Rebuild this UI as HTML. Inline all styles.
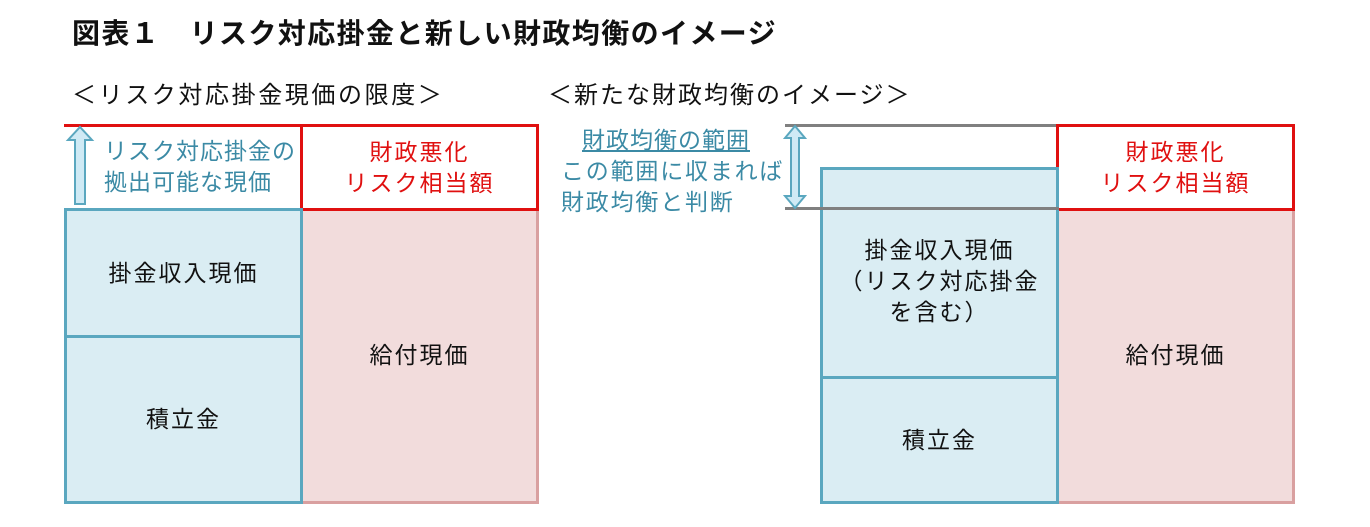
<!DOCTYPE html>
<html><head><meta charset="utf-8"><style>
body{margin:0;width:1370px;height:527px;background:#fff;position:relative;overflow:hidden;font-family:"Liberation Sans","Noto Sans CJK JP",sans-serif;}
div{position:absolute;box-sizing:border-box;}
.t{white-space:nowrap;}
.blue{background:#daedf3;border:3px solid #5aa7bf;}
.pink{background:#f2dcdc;border:3px solid #d9a0a0;}
.red{background:#fff;border:3px solid #e01010;}
.c{display:flex;align-items:center;justify-content:center;text-align:center;font-size:23px;letter-spacing:2px;color:#111;line-height:31px;}
</style></head><body>
<div class="t" style="left:72px;top:12px;font-size:28px;letter-spacing:1.4px;font-weight:bold;color:#111;">図表１　リスク対応掛金と新しい財政均衡のイメージ</div>
<div class="t" style="left:72px;top:75px;font-size:24px;letter-spacing:2.6px;color:#111;">＜リスク対応掛金現価の限度＞</div>
<div class="t" style="left:548px;top:75px;font-size:24px;letter-spacing:2px;color:#111;">＜新たな財政均衡のイメージ＞</div>

<!-- left -->
<div style="left:64px;top:124px;width:238px;height:3px;background:#e01010;"></div>
<div class="pink c" style="left:300px;top:207px;width:239px;height:297px;">給付現価</div>
<div class="red c" style="left:300px;top:124px;width:239px;height:87px;color:#e01010;">財政悪化<br>リスク相当額</div>
<div class="blue c" style="left:64px;top:208px;width:239px;height:130px;">掛金収入現価</div>
<div class="blue c" style="left:64px;top:335px;width:239px;height:169px;">積立金</div>
<svg style="position:absolute;left:64px;top:124px" width="34" height="86"><path d="M16 3 L28 16 L21 16 L21 80 L11 80 L11 16 L4 16 Z" fill="#cfeaf5" stroke="#5aa7bf" stroke-width="2"/></svg>
<div class="t" style="left:104px;top:136px;font-size:23px;letter-spacing:1px;line-height:31px;color:#3b8aa5;">リスク対応掛金の<br>拠出可能な現価</div>

<!-- right -->
<div style="left:785px;top:124px;width:274px;height:3px;background:#808080;"></div>
<div class="pink c" style="left:1056px;top:207px;width:239px;height:297px;">給付現価</div>
<div class="red c" style="left:1056px;top:124px;width:239px;height:87px;color:#e01010;">財政悪化<br>リスク相当額</div>
<div class="blue c" style="left:820px;top:167px;width:239px;height:213px;padding-top:16px;">掛金収入現価<br>（リスク対応掛金<br>を含む）</div>
<div class="blue c" style="left:820px;top:376px;width:239px;height:128px;">積立金</div>
<div style="left:785px;top:207px;width:274px;height:3px;background:#808080;"></div>
<svg style="position:absolute;left:783px;top:124px" width="24" height="86"><path d="M12 2 L22 14 L16 14 L16 72 L22 72 L12 84 L2 72 L8 72 L8 14 L2 14 Z" fill="#cfeaf5" stroke="#5aa7bf" stroke-width="2"/></svg>
<div class="t" style="left:582px;top:125px;font-size:23px;letter-spacing:1px;line-height:31px;color:#3b8aa5;text-decoration:underline;">財政均衡の範囲</div>
<div class="t" style="left:561px;top:156px;font-size:23px;letter-spacing:1.8px;line-height:31px;color:#3b8aa5;">この範囲に収まれば<br>財政均衡と判断</div>
</body></html>
